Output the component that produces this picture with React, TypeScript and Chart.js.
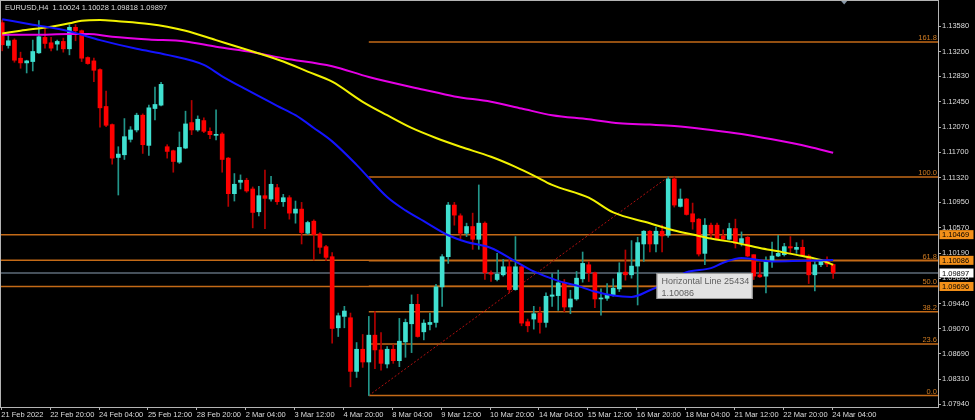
import React, { useEffect, useRef } from "react";
import { Chart, registerables } from "chart.js";

Chart.register(...registerables);

// ---- OHLC data (EURUSD H4), bar index 0 = 21 Feb 12:00 ----
const openP = [
  1.1363, 1.1329, 1.1337, 1.131, 1.1303, 1.1305, 1.1318, 1.1341, 1.1333, 1.1331,
  1.1335, 1.1324, 1.1356, 1.1351, 1.1311, 1.1306, 1.1293, 1.1238, 1.1211, 1.1162,
  1.1166, 1.1189, 1.1203, 1.1225, 1.118, 1.1235, 1.124, 1.1178, 1.1172, 1.1155,
  1.1176, 1.1214, 1.1203, 1.1217, 1.1201, 1.1195, 1.1197, 1.1161, 1.1108, 1.1125,
  1.1128, 1.1115, 1.1081, 1.1105, 1.11, 1.1117, 1.1096, 1.1102, 1.1079, 1.1085,
  1.1049, 1.1067, 1.1048, 1.1029, 1.1014, 1.0908, 1.0925, 1.0923, 1.0843, 1.0876,
  1.0857, 1.0897, 1.0875, 1.0854, 1.0876, 1.0859, 1.0887, 1.0914, 1.0943, 1.0902,
  1.0913, 1.0916, 1.0969, 1.1014, 1.1091, 1.1075, 1.1049, 1.1059, 1.104, 1.1064,
  1.099, 1.098, 1.0987, 1.0999, 1.0965, 1.0999, 1.0917, 1.0921, 1.093, 1.0916,
  1.0955, 1.0956, 1.0975, 1.0939, 1.0951, 1.0981, 1.1002, 1.099, 1.0951, 1.0952,
  1.0956, 1.0966, 1.0991, 1.0987, 1.1, 1.1033, 1.1052, 1.1033, 1.1052, 1.1046,
  1.113, 1.1089, 1.11, 1.1078, 1.107, 1.1019, 1.1061, 1.1061, 1.1045, 1.104,
  1.1056, 1.1034, 1.1043, 1.1017, 1.0987, 1.0985, 1.1007, 1.1015, 1.1017, 1.1029,
  1.1025, 1.1028, 1.1015, 1.0987, 1.1002, 1.1007, 1.10024,
];
const highP = [
  1.1367, 1.1346, 1.1339, 1.1319, 1.1307, 1.1337, 1.1366, 1.1354, 1.1341, 1.1337,
  1.134, 1.136, 1.136, 1.1352, 1.1312, 1.131, 1.1294, 1.1261, 1.1212, 1.1178,
  1.122, 1.1208, 1.1228, 1.1227, 1.124, 1.1267, 1.1274, 1.1181, 1.1173, 1.12,
  1.1231, 1.1247, 1.1224, 1.1221, 1.1206, 1.1233, 1.1199, 1.1162, 1.1138, 1.1136,
  1.1131, 1.1118, 1.1119, 1.1143, 1.1134, 1.1122, 1.1107, 1.1105, 1.1097, 1.1095,
  1.1067, 1.1069, 1.105, 1.1031, 1.102, 1.093, 1.094, 1.093, 1.0886, 1.0898,
  1.0925, 1.0932, 1.0901, 1.088, 1.0883, 1.0922, 1.0921, 1.0957, 1.0958, 1.092,
  1.093, 1.0973, 1.1017, 1.1095, 1.1095, 1.1078, 1.1064, 1.1079, 1.1121, 1.1066,
  1.0993, 1.1019, 1.101, 1.1009, 1.1044, 1.1002, 1.0921, 1.094, 1.0939, 1.096,
  1.0989, 1.0994, 1.098, 1.0964, 1.0992, 1.1021, 1.1007, 1.0991, 1.0966, 1.0974,
  1.0981, 1.1005, 1.1024, 1.1038, 1.1043, 1.1053, 1.1053, 1.1058, 1.1061, 1.1133,
  1.1133, 1.1115, 1.1101, 1.1094, 1.1071, 1.1071, 1.1064, 1.1064, 1.1054, 1.1064,
  1.107, 1.1051, 1.1044, 1.1017, 1.1005, 1.1014, 1.1036, 1.1046, 1.1034, 1.1044,
  1.1035, 1.1039, 1.1017, 1.1007, 1.101, 1.1014, 1.10028,
];
const lowP = [
  1.1321, 1.1325, 1.1304, 1.1295, 1.1288, 1.1291, 1.1317, 1.1325, 1.1321, 1.1322,
  1.1319, 1.1315, 1.1336, 1.1305, 1.1301, 1.1275, 1.1207, 1.1208, 1.1152, 1.1106,
  1.1159, 1.1185, 1.12, 1.1168, 1.1165, 1.1218, 1.1239, 1.1161, 1.114, 1.1153,
  1.1175, 1.1196, 1.1201, 1.1199, 1.119, 1.1188, 1.114, 1.1089, 1.1097, 1.1115,
  1.111, 1.1057, 1.1075, 1.1056, 1.1097, 1.1092, 1.1089, 1.107, 1.1064, 1.1033,
  1.1047, 1.1009, 1.1019, 1.1008, 1.0885, 1.0895, 1.0908, 1.082, 1.0834, 1.0849,
  1.0807, 1.0847, 1.0845, 1.0848, 1.0855, 1.085, 1.0864, 1.0871, 1.0894, 1.089,
  1.0905, 1.0909, 1.094, 1.1004, 1.1061, 1.1041, 1.1044, 1.1025, 1.1025, 1.098,
  1.0977, 1.0978, 1.0985, 1.096, 1.0964, 1.0911, 1.0902, 1.0906, 1.09, 1.0909,
  1.094, 1.0934, 1.0932, 1.0929, 1.0949, 1.0976, 1.0977, 1.0938, 1.0927, 1.0949,
  1.0955, 1.0962, 1.0979, 1.0982, 1.0942, 1.1007, 1.1021, 1.1021, 1.1021, 1.1043,
  1.1088, 1.1088, 1.1076, 1.1055, 1.1015, 1.1002, 1.1041, 1.104, 1.1039, 1.1039,
  1.1027, 1.103, 1.1014, 1.098, 1.0983, 1.096, 1.0998, 1.1014, 1.1015, 1.1019,
  1.1019, 1.1014, 1.0974, 1.0963, 1.0999, 1.0999, 1.09818,
];
const closeP = [
  1.133, 1.1336, 1.1307, 1.1303, 1.1306, 1.132, 1.1342, 1.1332, 1.1325, 1.1335,
  1.1324, 1.1356, 1.1351, 1.131, 1.1302, 1.1292, 1.1236, 1.121, 1.1161, 1.1167,
  1.1193, 1.1203, 1.1225, 1.1181, 1.1236, 1.1241, 1.1271, 1.1171, 1.1156, 1.1177,
  1.1212, 1.1203, 1.1219, 1.1201, 1.1196, 1.1196, 1.1159, 1.1108, 1.1122, 1.1128,
  1.1112, 1.108, 1.1105, 1.1101, 1.1122, 1.1096, 1.1102, 1.1079, 1.1085, 1.105,
  1.1065, 1.1047, 1.1028, 1.1013, 1.0907, 1.0926, 1.0933, 1.0843, 1.0876, 1.0857,
  1.0897, 1.0875, 1.0855, 1.0876, 1.0859, 1.0888, 1.0916, 1.0943, 1.0895, 1.0915,
  1.0916, 1.0969, 1.1014, 1.1091, 1.1076, 1.1049, 1.1059, 1.104, 1.1064, 1.099,
  1.0988, 1.0988, 1.0999, 1.0965, 1.0999, 1.0915, 1.0911, 1.0929, 1.0916, 1.0955,
  1.0957, 1.0975, 1.0939, 1.0951, 1.0982, 1.1004, 1.099, 1.0951, 1.0952, 1.0957,
  1.0967, 1.099, 1.0987, 1.1, 1.1035, 1.1052, 1.1033, 1.1052, 1.1045, 1.113,
  1.1091, 1.11, 1.1077, 1.1066, 1.1018, 1.1061, 1.1049, 1.1041, 1.104, 1.1056,
  1.1034, 1.1041, 1.1015, 1.0985, 1.0984, 1.1008, 1.1015, 1.1019, 1.1029, 1.1027,
  1.1028, 1.1015, 1.0987, 1.1002, 1.1008, 1.1003, 1.09897,
];

// ---- time axis ----
const tickIdx = [0, 8, 16, 24, 32, 40, 48, 56, 64, 72, 80, 88, 96, 104, 112, 120, 128, 136];
const tickLabels = [
  "21 Feb 2022", "22 Feb 20:00", "24 Feb 04:00", "25 Feb 12:00", "28 Feb 20:00",
  "2 Mar 04:00", "3 Mar 12:00", "4 Mar 20:00", "8 Mar 04:00", "9 Mar 12:00",
  "10 Mar 20:00", "14 Mar 04:00", "15 Mar 12:00", "16 Mar 20:00", "18 Mar 04:00",
  "21 Mar 12:00", "22 Mar 20:00", "24 Mar 04:00",
];

// ---- price axis ----
const yTickValues = [
  1.0794, 1.0831, 1.0869, 1.0907, 1.0944, 1.0982, 1.1019, 1.1057,
  1.1095, 1.1132, 1.117, 1.1207, 1.1245, 1.1283, 1.132, 1.1358,
];

// ---- moving averages (read at sampled bars) ----
const blueIdx = [0, 5, 11, 16, 22, 27, 33, 36, 40, 45, 48, 51, 54, 58, 63, 66, 69, 73, 76, 80, 84, 87, 91, 94, 97, 100, 103, 106, 109, 112, 116, 118, 121, 126, 131, 136];
const blueVal = [1.1368, 1.136, 1.135, 1.1337, 1.1324, 1.1315, 1.13, 1.1283, 1.1263, 1.1239, 1.1225, 1.1206, 1.1186, 1.1151, 1.1103, 1.1083, 1.1067, 1.1046, 1.1036, 1.1027, 1.1007, 1.0992, 1.0978, 1.0971, 1.0962, 1.0956, 1.0954, 1.0964, 1.0976, 1.0991, 1.0997, 1.1005, 1.1012, 1.1007, 1.1008, 1.1009];
const yellowIdx = [0, 3, 8, 11, 13, 16, 19, 24, 27, 30, 35, 41, 46, 50, 54, 59, 63, 67, 71, 75, 80, 84, 87, 90, 96, 100, 106, 110, 113, 116, 120, 124, 127, 131, 134, 136];
const yellowVal = [1.1347, 1.1351, 1.1357, 1.1362, 1.1366, 1.1367, 1.1365, 1.1361, 1.1357, 1.1351, 1.1337, 1.132, 1.1305, 1.129, 1.1275, 1.1245, 1.1225, 1.1206, 1.1191, 1.1178, 1.1163, 1.1148, 1.1135, 1.1121, 1.1102, 1.108, 1.1064, 1.1053, 1.1047, 1.1041, 1.1035, 1.1027, 1.1022, 1.1015, 1.1009, 1.1002];
const magentaIdx = [0, 5, 11, 14, 18, 24, 30, 35, 41, 46, 54, 60, 69, 74, 80, 85, 90, 96, 101, 106, 110, 116, 121, 126, 132, 136];
const magentaVal = [1.1345, 1.1345, 1.1346, 1.1346, 1.1342, 1.1338, 1.1335, 1.1327, 1.1319, 1.131, 1.1298, 1.1282, 1.1263, 1.1253, 1.1245, 1.1235, 1.1225, 1.1219, 1.1213, 1.1211, 1.1209, 1.1203, 1.1197, 1.1189, 1.1178, 1.1169];

// ---- drawing objects ----
const fibLabels = ["0.0", "23.6", "38.2", "50.0", "61.8", "100.0", "161.8"];
const fibPrices = [1.0807, 1.0884, 1.0932, 1.097, 1.1008, 1.1133, 1.1334];
const fibStartIdx = 60;
const fibEndIdx = 109;
const hLinePrices = [1.10469, 1.10086, 1.09696];
const bidPrice = 1.09897;
const titleText = "EURUSD,H4  1.10024 1.10028 1.09818 1.09897";
const hoverTitle = "Horizontal Line 25434";
const hoverValue = "1.10086";

const X_MIN = -0.2;
const X_MAX = 153.16;
const Y_MIN = 1.07899;
const Y_MAX = 1.13953;

const BULL_BODY = "#40e0d0";
const BULL_WICK = "#22968a";
const BEAR_BODY = "#ff0000";
const BEAR_WICK = "#b40000";
const FIB_COLOR = "#c46a17";
const FIB_TEXT = "#d07c22";
const BOX_ORANGE = "#f39019";
const AXIS_COLOR = "#b4b4b4";
const TEXT_COLOR = "#dedede";
const FONT = '"Liberation Sans", Arial, sans-serif';

const idx = openP.map((_, i) => i);
const isBull = idx.map((i) => closeP[i] >= openP[i]);

const mtPlugin = {
  id: "mtDecor",
  beforeDraw(chart: any) {
    const ctx = chart.ctx;
    ctx.save();
    ctx.fillStyle = "#000";
    ctx.fillRect(0, 0, chart.width, chart.height);
    ctx.restore();
  },
  afterDraw(chart: any) {
    const { ctx, chartArea: a } = chart;
    const xs = chart.scales.x;
    const ys = chart.scales.y;
    ctx.save();
    // frame
    ctx.strokeStyle = AXIS_COLOR;
    ctx.lineWidth = 1;
    ctx.strokeRect(a.left - 0.5, a.top - 0.5, a.right - a.left + 1, a.bottom - a.top + 1);

    // fib labels
    ctx.font = `7.5px ${FONT}`;
    ctx.fillStyle = FIB_TEXT;
    ctx.textAlign = "right";
    ctx.textBaseline = "alphabetic";
    fibPrices.forEach((p, k) => {
      ctx.fillText(fibLabels[k], a.right - 1, ys.getPixelForValue(p) - 2);
    });

    // price boxes on the axis
    ctx.textAlign = "left";
    ctx.textBaseline = "middle";
    const box = (p: number, fill: string) => {
      const py = ys.getPixelForValue(p);
      ctx.fillStyle = fill;
      ctx.fillRect(a.right + 1.5, py - 4.5, 34, 9);
      ctx.fillStyle = "#000";
      ctx.fillText(p.toFixed(5), a.right + 4, py + 0.5);
    };
    hLinePrices.forEach((p) => box(p, BOX_ORANGE));
    box(bidPrice, "#ffffff");

    // hover box of the horizontal line
    const bx = xs.getPixelForValue(107.1);
    const by = ys.getPixelForValue(bidPrice);
    ctx.fillStyle = "#e2e2e2";
    ctx.fillRect(bx, by, 96, 26);
    ctx.strokeStyle = "#9c9c9c";
    ctx.strokeRect(bx + 0.5, by + 0.5, 95, 25);
    ctx.fillStyle = "#606060";
    ctx.font = `9px ${FONT}`;
    ctx.textBaseline = "alphabetic";
    ctx.fillText(hoverTitle, bx + 5, by + 11);
    ctx.fillText(hoverValue, bx + 5, by + 22.5);

    // title
    ctx.font = `7.5px ${FONT}`;
    ctx.fillStyle = TEXT_COLOR;
    ctx.fillText(titleText, 5, 9.5);

    // chart shift marker
    const sx = xs.getPixelForValue(137.8);
    ctx.fillStyle = "#8898a8";
    ctx.beginPath();
    ctx.moveTo(sx - 3, a.top);
    ctx.lineTo(sx + 3, a.top);
    ctx.lineTo(sx, a.top + 3.5);
    ctx.closePath();
    ctx.fill();
    ctx.restore();
  },
};

function lineDs(points: { x: number; y: number }[], color: string, width: number, order: number, extra: any = {}) {
  return {
    type: "line" as const,
    data: points,
    borderColor: color,
    borderWidth: width,
    pointRadius: 0,
    fill: false,
    order,
    ...extra,
  };
}

export default function App() {
  const ref = useRef<HTMLCanvasElement>(null);

  useEffect(() => {
    if (!ref.current) return;
    const datasets: any[] = [];

    datasets.push(lineDs(blueIdx.map((x, k) => ({ x, y: blueVal[k] })), "#1414ff", 2, 0, { cubicInterpolationMode: "monotone" }));
    datasets.push(lineDs(yellowIdx.map((x, k) => ({ x, y: yellowVal[k] })), "#f2f200", 2, 0, { cubicInterpolationMode: "monotone" }));
    datasets.push(lineDs(magentaIdx.map((x, k) => ({ x, y: magentaVal[k] })), "#e600e6", 2, 0, { cubicInterpolationMode: "monotone" }));

    datasets.push({
      type: "bar",
      data: idx.map((i) => ({ x: i, y: [openP[i], closeP[i]] })),
      backgroundColor: idx.map((i) => (isBull[i] ? BULL_BODY : BEAR_BODY)),
      barThickness: 4,
      minBarLength: 1,
      grouped: false,
      borderWidth: 0,
      order: 1,
    });
    datasets.push({
      type: "bar",
      data: idx.map((i) => ({ x: i, y: [lowP[i], highP[i]] })),
      backgroundColor: idx.map((i) => (isBull[i] ? BULL_WICK : BEAR_WICK)),
      barThickness: 1,
      grouped: false,
      borderWidth: 0,
      order: 2,
    });

    datasets.push(
      lineDs(
        [
          { x: fibStartIdx, y: fibPrices[0] },
          { x: fibEndIdx, y: fibPrices[5] },
        ],
        "#b01010",
        1,
        3,
        { borderDash: [2, 2] }
      )
    );
    fibPrices.forEach((p) => {
      datasets.push(lineDs([{ x: fibStartIdx, y: p }, { x: X_MAX, y: p }], FIB_COLOR, 1.5, 4));
    });
    hLinePrices.forEach((p) => {
      datasets.push(lineDs([{ x: X_MIN, y: p }, { x: X_MAX, y: p }], FIB_COLOR, 1.5, 4));
    });
    datasets.push(lineDs([{ x: X_MIN, y: bidPrice }, { x: X_MAX, y: bidPrice }], "#46505a", 2, 5));

    const chart = new Chart(ref.current, {
      type: "bar",
      data: { datasets },
      plugins: [mtPlugin],
      options: {
        responsive: false,
        animation: false,
        devicePixelRatio: 1,
        events: [],
        layout: { padding: { left: 1, top: 1, right: 0, bottom: 0 } },
        plugins: {
          legend: { display: false },
          tooltip: { enabled: false },
          title: { display: false },
        },
        scales: {
          x: {
            type: "linear",
            min: X_MIN,
            max: X_MAX,
            offset: false,
            border: { display: false },
            grid: { display: true, drawOnChartArea: false, offset: false, tickLength: 3, color: AXIS_COLOR, tickColor: AXIS_COLOR },
            ticks: {
              autoSkip: false,
              maxRotation: 0,
              minRotation: 0,
              align: "start",
              padding: 0,
              color: TEXT_COLOR,
              font: { family: FONT, size: 7.5 },
              callback: (_v: any, i: number) => tickLabels[i],
            },
            afterBuildTicks: (s: any) => {
              s.ticks = tickIdx.map((v) => ({ value: v - 0.15 }));
            },
            afterFit: (s: any) => {
              s.height = 13;
              s.paddingLeft = 0;
              s.paddingRight = 0;
            },
          } as any,
          y: {
            type: "linear",
            position: "right",
            min: Y_MIN,
            max: Y_MAX,
            border: { display: false },
            grid: { display: true, drawOnChartArea: false, tickLength: 3, color: AXIS_COLOR, tickColor: AXIS_COLOR },
            ticks: {
              autoSkip: false,
              padding: 1,
              color: TEXT_COLOR,
              font: { family: FONT, size: 7.5 },
              callback: (v: any) => Number(v).toFixed(5),
            },
            afterBuildTicks: (s: any) => {
              s.ticks = yTickValues.map((v) => ({ value: v }));
            },
            afterFit: (s: any) => {
              s.width = 37;
              s.paddingTop = 0;
              s.paddingBottom = 0;
            },
          } as any,
        },
      } as any,
    });
    return () => chart.destroy();
  }, []);

  return (
    <div style={{ position: "fixed", left: 0, top: 0, width: 975, height: 420, background: "#000" }}>
      <canvas ref={ref} width={975} height={420} style={{ display: "block", width: 975, height: 420 }} />
    </div>
  );
}
